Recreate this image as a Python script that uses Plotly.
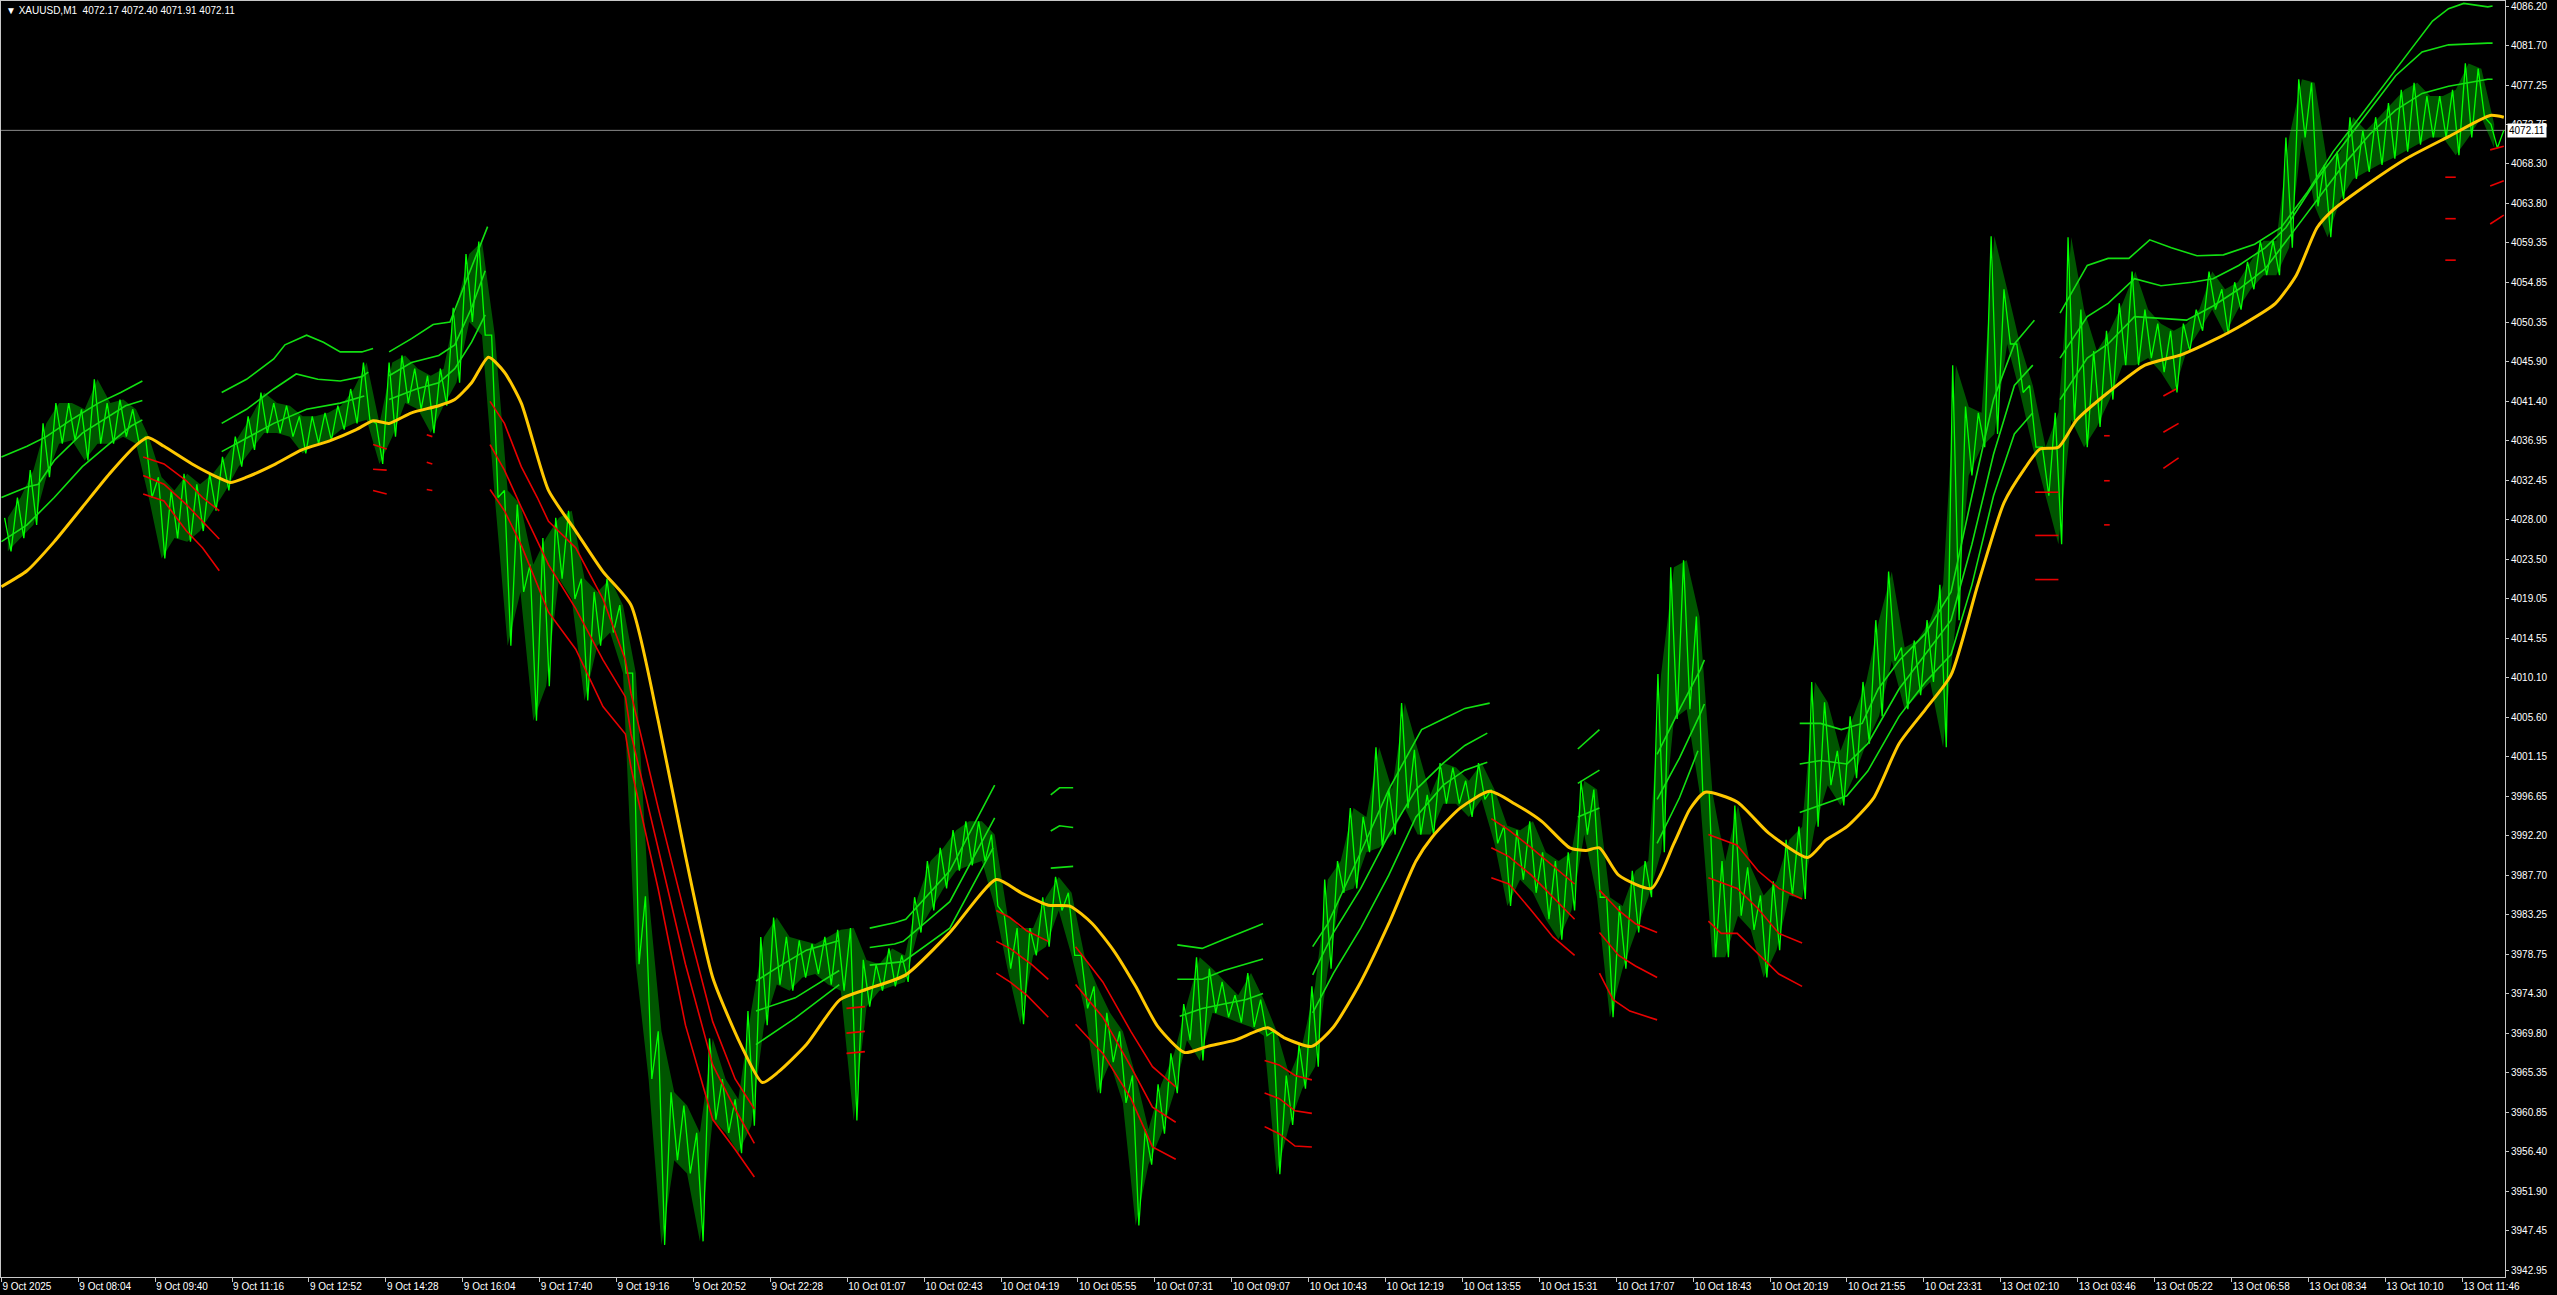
import plotly.graph_objects as go

# ---------------- data ----------------
# price: high / low of each 16-bar bin (bar index 16*k .. 16*k+15)
price_hi = [4028.2, 4030.5, 4033.6, 4038.9, 4041.2, 4041.2, 4040.5, 4043.9, 4041.2, 4041.6,
            4040.5, 4037.4, 4032.8, 4031.3, 4033.2, 4032.0, 4033.2, 4035.1, 4037.4, 4039.7,
            4042.4, 4041.2, 4040.9, 4039.7, 4039.7, 4040.1, 4040.9, 4042.8, 4045.8, 4038.9,
            4045.8, 4046.6, 4045.1, 4044.3, 4045.1, 4052.0, 4058.1, 4059.5, 4048.9, 4031.3,
            4029.7, 4022.9, 4025.9, 4028.2, 4029.0, 4021.3, 4019.8, 4021.3, 4018.3, 4010.6,
            3985.3, 3970.0, 3963.1, 3961.6, 3958.5, 3969.2, 3964.6, 3962.3, 3972.3, 3980.7,
            3982.9, 3980.7, 3980.3, 3979.9, 3980.7, 3981.5, 3981.7, 3978.1, 3977.6, 3979.4,
            3978.6, 3985.2, 3989.3, 3990.8, 3992.8, 3993.8, 3993.8, 3992.3, 3983.2, 3981.7,
            3981.7, 3985.2, 3987.5, 3985.7, 3978.6, 3975.1, 3972.1, 3970.0, 3965.0, 3958.9,
            3964.0, 3967.5, 3973.1, 3978.4, 3977.1, 3975.6, 3974.1, 3976.6, 3973.6, 3970.0,
            3965.0, 3968.5, 3975.1, 3987.2, 3989.3, 3995.3, 3994.3, 4002.2, 3997.4, 4007.2,
            4001.9, 3996.8, 4000.4, 3999.9, 3998.4, 4000.4, 3997.4, 3993.3, 3992.8, 3993.8,
            3990.3, 3989.3, 3990.3, 3998.4, 3997.4, 3985.2, 3984.2, 3988.2, 3989.3, 4010.5,
            4022.6, 4023.4, 4017.0, 3997.1, 3989.3, 3995.6, 3988.6, 3985.4, 3987.0, 3991.7,
            3993.2, 4009.6, 4007.3, 4001.8, 4005.7, 4009.6, 4016.6, 4022.1, 4013.5, 4014.3,
            4016.6, 4020.6, 4045.5, 4040.8, 4040.1, 4060.1, 4054.1, 4047.9, 4043.2, 4036.2,
            4040.1, 4060.0, 4051.8, 4047.1, 4049.4, 4052.5, 4056.1, 4051.8, 4050.2, 4049.4,
            4050.2, 4051.8, 4056.1, 4054.1, 4054.9, 4057.2, 4059.6, 4059.6, 4071.3, 4077.9,
            4077.5, 4068.2, 4069.7, 4073.6, 4072.1, 4073.6, 4075.2, 4076.7, 4077.5, 4076.0,
            4076.0, 4076.7, 4079.7, 4079.1, 4072.8]
price_lo = [4024.4, 4025.9, 4027.4, 4032.8, 4036.6, 4037.0, 4034.7, 4036.6, 4036.6, 4037.4,
            4036.6, 4030.5, 4023.6, 4025.9, 4025.5, 4026.7, 4029.0, 4031.3, 4034.0, 4035.9,
            4037.8, 4037.8, 4037.4, 4035.5, 4036.6, 4037.0, 4038.2, 4038.9, 4039.3, 4034.3,
            4037.4, 4041.2, 4040.5, 4037.8, 4040.9, 4043.5, 4050.4, 4048.9, 4030.5, 4013.7,
            4019.8, 4005.2, 4009.1, 4021.3, 4019.0, 4007.5, 4013.7, 4015.2, 4010.6, 3977.6,
            3964.6, 3945.8, 3955.4, 3953.9, 3946.2, 3960.0, 3958.5, 3956.2, 3959.3, 3970.7,
            3975.3, 3974.6, 3976.1, 3976.5, 3975.3, 3974.6, 3959.9, 3972.8, 3974.6, 3975.1,
            3975.6, 3981.2, 3983.7, 3986.2, 3988.2, 3988.8, 3989.3, 3984.2, 3977.1, 3970.8,
            3978.6, 3979.6, 3983.7, 3978.6, 3972.6, 3963.0, 3966.5, 3961.9, 3948.0, 3954.9,
            3958.4, 3963.0, 3969.0, 3966.7, 3972.1, 3971.6, 3971.0, 3970.5, 3969.5, 3953.8,
            3959.4, 3963.5, 3966.0, 3977.1, 3985.7, 3986.2, 3990.3, 3990.8, 3992.3, 3995.3,
            3992.3, 3992.3, 3995.8, 3995.8, 3994.3, 3996.3, 3991.3, 3984.2, 3987.2, 3985.7,
            3982.7, 3980.4, 3983.7, 3992.3, 3985.2, 3971.6, 3977.1, 3981.2, 3985.2, 3990.3,
            4005.4, 4006.5, 3997.1, 3978.4, 3978.4, 3983.1, 3981.5, 3976.1, 3979.2, 3985.4,
            3985.0, 3993.2, 3997.9, 3995.6, 3998.7, 4002.6, 4005.7, 4012.0, 4006.5, 4008.1,
            4009.6, 4002.2, 4016.6, 4033.0, 4036.2, 4037.7, 4047.9, 4042.4, 4036.2, 4030.7,
            4025.2, 4039.3, 4036.2, 4038.5, 4041.6, 4045.5, 4045.5, 4046.3, 4044.7, 4042.4,
            4047.1, 4049.4, 4051.8, 4049.0, 4051.8, 4054.1, 4055.7, 4055.7, 4058.8, 4071.3,
            4063.5, 4060.0, 4064.3, 4066.6, 4067.4, 4068.2, 4068.9, 4069.7, 4070.5, 4071.3,
            4071.3, 4069.3, 4071.3, 4073.6, 4070.1]
bin_bars = 16
last_bar = 3124
last_price = 4072.11
ohlc_text = "4072.17 4072.40 4071.91 4072.11"

# moving average (yellow)
ma_x = [0, 32, 66, 101, 135, 169, 183, 203, 238, 272, 286, 306, 340, 375, 409, 443, 464, 484,
        512, 546, 566, 587, 608, 628, 649, 683, 717, 751, 786, 820, 854, 888, 923, 950, 970,
        1005, 1047, 1081, 1129, 1184, 1242, 1273, 1307, 1334, 1362, 1389, 1416, 1444, 1477,
        1506, 1540, 1581, 1601, 1636, 1663, 1697, 1732, 1766, 1786, 1821, 1858, 1889, 1923,
        1958, 1978, 1995, 2019, 2060, 2088, 2108, 2127, 2167, 2206, 2255, 2278, 2304, 2337,
        2369, 2402, 2434, 2467, 2500, 2526, 2545, 2568, 2591, 2630, 2676, 2722, 2761, 2800,
        2839, 2865, 2891, 2911, 2957, 3002, 3055, 3107, 3124]
ma_y = [4020.4, 4022.2, 4025.5, 4029.4, 4033.2, 4036.5, 4037.3, 4036.3, 4034.3, 4032.7, 4032.2,
        4032.8, 4034.2, 4035.9, 4036.9, 4038.2, 4039.2, 4038.9, 4040.1, 4040.9, 4041.6, 4043.5,
        4046.4, 4044.7, 4041.2, 4031.3, 4026.7, 4022.1, 4018.3, 4005.2, 3989.9, 3976.1, 3968.5,
        3964.2, 3965.4, 3968.5, 3973.6, 3974.8, 3976.4, 3981.2, 3987.2, 3985.7, 3984.3, 3984.2,
        3982.2, 3979.1, 3975.1, 3970.5, 3967.6, 3968.3, 3969.0, 3970.4, 3969.3, 3968.3, 3970.5,
        3975.6, 3982.2, 3989.3, 3992.0, 3995.3, 3997.2, 3995.8, 3993.8, 3990.8, 3990.5, 3990.8,
        3987.7, 3986.2, 3991.3, 3995.2, 3997.1, 3996.0, 3992.5, 3989.7, 3991.7, 3993.2, 3996.4,
        4002.6, 4006.5, 4010.4, 4020.5, 4029.9, 4033.8, 4036.0, 4036.2, 4039.3, 4042.4, 4045.5,
        4046.7, 4048.3, 4050.2, 4052.5, 4055.7, 4061.1, 4063.1, 4066.2, 4068.9, 4071.4, 4073.8,
        4073.6]

# upper (green) bands, None = gap
up1_x = [0, 32, 56, 87, 121, 149, 176, None,
         275, 306, 340, 354, 381, 402, 423, 450, 464, None,
         484, 512, 539, 560, 580, 607, None,
         942, 970, 1005, 1046, None,
         1084, 1115, 1129, 1184, 1240, None,
         1310, 1321, 1338, None,
         1468, 1499, 1526, 1554, 1575, None,
         1637, 1656, 1697, 1732, 1759, 1773, 1800, 1827, 1858, None,
         1968, 1995, None,
         2067, 2095, 2121, 2126, None,
         2245, 2271, 2297, 2323, 2343, 2369, 2402, 2434, 2460, 2487, 2513, 2538, None,
         2570, 2604, 2630, 2656, 2682, 2709, 2741, 2774, 2813, 2846, 2878, 2911, 2944, 2976,
         3009, 3035, 3055, 3074, 3104, 3110]
up1_y = [4035.1, 4036.3, 4037.4, 4039.3, 4041.2, 4042.4, 4043.7, None,
         4042.4, 4043.9, 4046.2, 4047.8, 4048.9, 4048.1, 4047.0, 4047.0, 4047.4, None,
         4047.0, 4048.5, 4050.1, 4050.4, 4055.0, 4061.2, None,
         3975.7, 3977.3, 3979.2, 3980.3, None,
         3981.7, 3982.3, 3982.7, 3988.2, 3997.9, None,
         3996.8, 3997.6, 3997.6, None,
         3979.8, 3979.4, 3980.4, 3981.4, 3982.2, None,
         3979.6, 3982.2, 3990.3, 3997.4, 4001.9, 4004.2, 4005.4, 4006.6, 4007.2, None,
         4002.0, 4004.2, None,
         4001.4, 4006.5, 4011.0, 4012.1, None,
         4004.9, 4004.9, 4004.2, 4004.9, 4008.8, 4012.0, 4015.1, 4019.8, 4030.7, 4041.6, 4047.9, 4050.6, None,
         4051.4, 4056.8, 4057.6, 4057.6, 4059.7, 4058.8, 4057.9, 4058.0, 4059.2, 4061.1, 4065.0,
         4069.7, 4073.6, 4077.5, 4081.4, 4084.5, 4085.9, 4086.5, 4086.1, 4086.2]
up2_x = [0, 32, 46, 66, 101, 135, 155, 176, None,
         275, 306, 340, 368, 395, 423, 450, 458, None,
         484, 512, 546, 566, 587, 604, None,
         942, 991, 1046, None,
         1084, 1115, 1126, 1184, 1240, None,
         1310, 1321, 1338, None,
         1468, 1499, 1526, 1554, 1575, None,
         1637, 1663, 1697, 1732, 1766, 1800, 1827, 1855, None,
         1968, 1995, None,
         2067, 2095, 2121, 2126, None,
         2245, 2271, 2304, 2330, 2369, 2402, 2434, 2460, 2487, 2513, 2536, None,
         2570, 2604, 2630, 2663, 2696, 2735, 2761, 2793, 2826, 2852, 2891, 2924, 2957, 2989,
         3022, 3055, 3104, 3110]
up2_y = [4030.5, 4031.7, 4032.0, 4034.7, 4037.8, 4039.7, 4040.9, 4041.5, None,
         4038.9, 4040.5, 4042.8, 4044.5, 4043.9, 4043.7, 4044.2, 4044.7, None,
         4044.3, 4045.8, 4046.6, 4047.8, 4052.0, 4056.2, None,
         3972.3, 3973.8, 3976.9, None,
         3979.5, 3979.9, 3980.2, 3984.7, 3994.2, None,
         3992.7, 3993.3, 3993.1, None,
         3975.9, 3975.9, 3976.9, 3977.6, 3978.2, None,
         3976.4, 3981.2, 3986.2, 3992.3, 3997.4, 4000.4, 4002.4, 4003.8, None,
         3998.1, 3999.6, None,
         3996.3, 4001.0, 4006.0, 4007.1, None,
         4000.3, 4000.7, 4000.3, 4002.6, 4008.8, 4012.7, 4016.6, 4025.2, 4035.4, 4043.2, 4045.5, None,
         4046.3, 4051.0, 4052.5, 4055.3, 4054.5, 4054.9, 4055.3, 4056.8, 4058.8, 4061.1, 4066.6,
         4070.5, 4074.4, 4078.3, 4081.0, 4081.8, 4082.0, 4082.0]
up3_x = [0, 32, 66, 101, 135, 162, 176, None,
         275, 340, 381, 423, 453, None,
         484, 518, 546, 566, 587, 604, None,
         942, 991, 1046, None,
         1084, 1126, 1184, 1238, None,
         1310, 1338, None,
         1471, 1499, 1526, 1554, 1575, None,
         1637, 1663, 1697, 1732, 1766, 1800, 1827, 1855, None,
         1968, 1995, None,
         2067, 2095, 2118, None,
         2245, 2271, 2304, 2330, 2369, 2402, 2434, 2460, 2487, 2513, 2536, None,
         2570, 2604, 2630, 2663, 2696, 2728, 2761, 2793, 2826, 2859, 2891, 2924, 2957, 2989,
         3022, 3055, 3104, 3110]
up3_y = [4025.5, 4027.4, 4030.5, 4034.0, 4036.6, 4038.6, 4039.3, None,
         4035.7, 4038.9, 4040.5, 4041.2, 4042.0, None,
         4041.6, 4042.8, 4043.5, 4045.1, 4048.1, 4051.2, None,
         3968.5, 3971.5, 3975.3, None,
         3977.5, 3977.9, 3981.7, 3990.8, None,
         3988.5, 3988.7, None,
         3971.7, 3972.6, 3973.1, 3973.6, 3974.3, None,
         3972.1, 3976.6, 3981.7, 3987.7, 3994.3, 3997.9, 3999.6, 4000.5, None,
         3994.3, 3995.3, None,
         3991.3, 3996.5, 4001.8, None,
         3994.8, 3995.6, 3996.7, 3999.5, 4005.7, 4009.6, 4012.7, 4020.6, 4030.7, 4037.7, 4040.1, None,
         4041.6, 4046.3, 4047.9, 4051.0, 4050.8, 4050.6, 4052.2, 4054.1, 4056.4, 4060.4, 4064.3,
         4068.2, 4071.7, 4074.4, 4076.3, 4077.1, 4077.9, 4077.9]

# lower (red) bands, None = gap
lo1_x = [177, 203, 231, 251, 272, None, 464, 481, None, 531, 538, None,
         610, 628, 649, 669, 683, 717, 751, 779, 786, 820, 854, 888, 916, 940, None,
         1055, 1078, None, 1242, 1259, 1280, 1307, None, 1341, 1375, 1410, 1437, 1466, None,
         1577, 1595, 1615, 1636, None, 1860, 1882, 1910, 1937, 1964, None,
         1995, 2019, 2040, 2067, None, 2131, 2167, 2193, 2219, 2248, None,
         2539, 2568, None, 2625, 2632, None, 2699, 2715, None, 3051, 3064, None, 3107, 3124]
lo1_y = [4035.1, 4034.3, 4032.4, 4030.5, 4029.0, None, 4036.5, 4036.0, None, 4037.6, 4037.4, None,
         4041.4, 4038.9, 4034.0, 4030.5, 4027.8, 4024.8, 4019.0, 4012.1, 4008.3, 3995.3, 3983.0,
         3971.1, 3964.6, 3961.2, None,
         3972.6, 3972.8, None, 3983.7, 3982.9, 3981.4, 3980.2, None,
         3979.6, 3975.6, 3970.0, 3966.0, 3963.7, None,
         3966.7, 3966.2, 3965.0, 3964.5, None, 3994.1, 3992.8, 3990.8, 3988.8, 3986.7, None,
         3986.0, 3983.7, 3982.2, 3981.2, None, 3992.3, 3991.1, 3988.2, 3986.2, 3985.0, None,
         4031.1, 4031.1, None, 4037.5, 4037.5, None, 4042.0, 4042.8, None, 4066.8, 4066.8, None,
         4069.9, 4070.3]
lo2_x = [177, 203, 231, 251, 272, None, 464, 481, None, 531, 538, None,
         610, 628, 649, 683, 717, 751, 779, 786, 820, 854, 888, 916, 940, None,
         1055, 1078, None, 1242, 1259, 1286, 1307, None, 1341, 1375, 1410, 1437, 1466, None,
         1577, 1595, 1615, 1636, None, 1860, 1882, 1910, 1937, 1964, None,
         1995, 2019, 2040, 2067, None, 2131, 2167, 2193, 2219, 2248, None,
         2539, 2568, None, 2625, 2632, None, 2699, 2718, None, 3051, 3064, None, 3107, 3124]
lo2_y = [4033.0, 4032.0, 4029.7, 4027.8, 4025.8, None, 4033.7, 4033.6, None, 4034.5, 4034.3, None,
         4036.5, 4033.6, 4029.4, 4022.9, 4017.9, 4012.1, 4007.9, 4003.7, 3990.7, 3977.6, 3966.2,
         3961.2, 3957.3, None,
         3969.8, 3970.0, None, 3980.2, 3979.4, 3977.6, 3975.9, None,
         3975.3, 3971.6, 3966.0, 3961.4, 3959.7, None,
         3963.0, 3962.4, 3961.0, 3960.7, None, 3990.8, 3989.8, 3987.7, 3985.2, 3982.7, None,
         3981.2, 3978.6, 3977.4, 3976.1, None, 3987.4, 3986.2, 3983.9, 3981.1, 3980.0, None,
         4026.2, 4026.2, None, 4032.4, 4032.4, None, 4037.9, 4038.9, None, 4062.1, 4062.1, None,
         4065.8, 4066.4]
lo3_x = [177, 203, 231, 251, 272, None, 464, 481, None, 531, 538, None,
         610, 628, 649, 683, 717, 751, 779, 786, 820, 854, 888, 916, 940, None,
         1055, 1078, None, 1242, 1259, 1280, 1307, None, 1341, 1375, 1410, 1437, 1466, None,
         1577, 1595, 1615, 1636, None, 1860, 1882, 1910, 1937, 1964, None,
         1995, 2012, 2033, 2067, None, 2131, 2147, 2167, 2193, 2219, 2248, None,
         2539, 2568, None, 2625, 2632, None, 2699, 2718, None, 3051, 3064, None, 3107, 3124]
lo3_y = [4030.9, 4030.1, 4026.7, 4024.8, 4022.2, None, 4031.3, 4030.9, None, 4031.4, 4031.3, None,
         4031.4, 4029.0, 4025.1, 4017.5, 4013.3, 4006.8, 4003.7, 3999.9, 3986.1, 3970.7, 3960.0,
         3956.6, 3953.5, None,
         3967.5, 3967.7, None, 3976.6, 3975.6, 3974.1, 3971.6, None,
         3970.8, 3967.5, 3962.4, 3956.9, 3955.5, None,
         3959.2, 3958.4, 3957.0, 3956.9, None, 3987.4, 3986.7, 3983.7, 3980.7, 3978.6, None,
         3976.6, 3973.6, 3972.3, 3971.3, None, 3982.5, 3981.1, 3981.1, 3978.8, 3976.5, 3975.1, None,
         4021.2, 4021.2, None, 4027.4, 4027.4, None, 4033.8, 4035.0, None, 4057.4, 4057.4, None,
         4061.5, 4062.5]

# axis labels
bars_per_label = 96
x_tick_labels = ["9 Oct 2025", "9 Oct 08:04", "9 Oct 09:40", "9 Oct 11:16", "9 Oct 12:52",
                 "9 Oct 14:28", "9 Oct 16:04", "9 Oct 17:40", "9 Oct 19:16", "9 Oct 20:52",
                 "9 Oct 22:28", "10 Oct 01:07", "10 Oct 02:43", "10 Oct 04:19", "10 Oct 05:55",
                 "10 Oct 07:31", "10 Oct 09:07", "10 Oct 10:43", "10 Oct 12:19", "10 Oct 13:55",
                 "10 Oct 15:31", "10 Oct 17:07", "10 Oct 18:43", "10 Oct 20:19", "10 Oct 21:55",
                 "10 Oct 23:31", "13 Oct 02:10", "13 Oct 03:46", "13 Oct 05:22", "13 Oct 06:58",
                 "13 Oct 08:34", "13 Oct 10:10", "13 Oct 11:46"]
y_tick_labels = ["4086.20", "4081.70", "4077.25", "4072.75", "4068.30", "4063.80", "4059.35",
                 "4054.85", "4050.35", "4045.90", "4041.40", "4036.95", "4032.45", "4028.00",
                 "4023.50", "4019.05", "4014.55", "4010.10", "4005.60", "4001.15", "3996.65",
                 "3992.20", "3987.70", "3983.25", "3978.75", "3974.30", "3969.80", "3965.35",
                 "3960.85", "3956.40", "3951.90", "3947.45", "3942.95"]

# ---------------- build ----------------
for a, b in [(price_hi, price_lo), (up1_x, up1_y), (up2_x, up2_y), (up3_x, up3_y),
             (lo1_x, lo1_y), (lo2_x, lo2_y), (lo3_x, lo3_y), (ma_x, ma_y)]:
    assert len(a) == len(b), (len(a), len(b))

bin_mid = [bin_bars * k + bin_bars / 2 for k in range(len(price_hi))]
# zig-zag through each bin's high and low
px, py = [], []
for k, (h, l) in enumerate(zip(price_hi, price_lo)):
    px += [bin_bars * k + 4, bin_bars * k + 12]
    py += [h, l]
px.append(last_bar)
py.append(last_price)

FONT = "Liberation Sans"
GREEN = "#00FF00"
BAND_GREEN = "#12E012"
RED = "#E80000"
GOLD = "#FFC800"

fig = go.Figure()
fig.add_trace(go.Scatter(x=bin_mid, y=price_lo, mode="lines", line=dict(width=0, color=GREEN),
                         hoverinfo="skip"))
fig.add_trace(go.Scatter(x=bin_mid, y=price_hi, mode="lines", line=dict(width=0, color=GREEN),
                         fill="tonexty", fillcolor="rgba(0,235,0,0.36)", hoverinfo="skip"))
fig.add_trace(go.Scatter(x=px, y=py, mode="lines", line=dict(color=GREEN, width=1.3),
                         hoverinfo="skip"))
for bx, by in [(up1_x, up1_y), (up2_x, up2_y), (up3_x, up3_y)]:
    fig.add_trace(go.Scatter(x=bx, y=by, mode="lines", connectgaps=False,
                             line=dict(color=BAND_GREEN, width=1.6), hoverinfo="skip"))
for bx, by in [(lo1_x, lo1_y), (lo2_x, lo2_y), (lo3_x, lo3_y)]:
    fig.add_trace(go.Scatter(x=bx, y=by, mode="lines", connectgaps=False,
                             line=dict(color=RED, width=1.6), hoverinfo="skip"))
fig.add_trace(go.Scatter(x=ma_x, y=ma_y, mode="lines",
                         line=dict(color=GOLD, width=3, shape="spline", smoothing=0.6),
                         hoverinfo="skip"))

fig.add_shape(type="line", xref="paper", x0=0, x1=1, yref="y", y0=last_price, y1=last_price,
              line=dict(color="#8A8A8A", width=1), layer="below")

fig.add_annotation(xref="paper", yref="paper", x=0, y=1, xanchor="left", yanchor="top",
                   xshift=3, yshift=-2, showarrow=False,
                   text="\u25BC XAUUSD,M1\u00a0\u00a0" + ohlc_text,
                   font=dict(family=FONT, size=10, color="white"))
fig.add_annotation(xref="paper", yref="y", x=1, y=last_price, xanchor="left", yanchor="middle",
                   xshift=2, showarrow=False, text=f"{last_price:.2f}", bgcolor="white",
                   borderpad=1, font=dict(family=FONT, size=10, color="black"))

AX = "#C8C8C8"
fig.update_layout(
    width=2557, height=1295,
    margin=dict(l=1, r=52, t=1, b=18),
    paper_bgcolor="black", plot_bgcolor="black",
    showlegend=False,
    xaxis=dict(range=[-0.5, 3125.5],
               tickvals=[bars_per_label * i for i in range(len(x_tick_labels))],
               ticktext=x_tick_labels, ticklabelposition="outside right",
               showgrid=False, zeroline=False, showline=True, linecolor=AX, linewidth=1,
               mirror=True, ticks="outside", ticklen=4, tickcolor=AX,
               tickfont=dict(family=FONT, size=10, color="white")),
    yaxis=dict(side="right", range=[3942.16, 4086.77],
               tickvals=[float(s) for s in y_tick_labels], ticktext=y_tick_labels,
               showgrid=False, zeroline=False, showline=True, linecolor=AX, linewidth=1,
               mirror=True, ticks="outside", ticklen=3, tickcolor=AX,
               tickfont=dict(family=FONT, size=10, color="white")),
)

fig.write_html("out.html", config={"displayModeBar": False},
               post_script="document.body.style.margin='0';document.body.style.overflow='hidden';")
